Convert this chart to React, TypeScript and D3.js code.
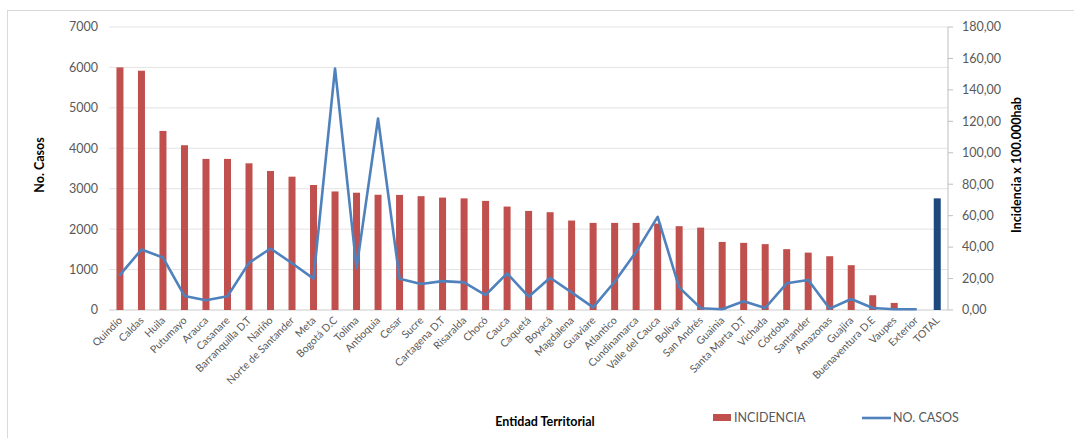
import React from "react";
import * as d3 from "d3";

const categories = [
  "Quindío", "Caldas", "Huila", "Putumayo", "Arauca", "Casanare", "Barranquilla D.T", "Nariño",
  "Norte de Santander", "Meta", "Bogotá D.C", "Tolima", "Antioquia", "Cesar", "Sucre",
  "Cartagena D.T", "Risaralda", "Chocó", "Cauca", "Caquetá", "Boyacá", "Magdalena", "Guaviare",
  "Atlantico", "Cundinamarca", "Valle del Cauca", "Bolívar", "San Andrés", "Guainia",
  "Santa Marta D.T", "Vichada", "Córdoba", "Santander", "Amazonas", "Guajira",
  "Buenaventura D.E", "Vaupes", "Exterior", "TOTAL",
];

// INCIDENCIA (x 100.000 hab) – right axis
const incidencia = [
  154.3, 152.2, 113.9, 104.8, 96.1, 96.1, 93.3, 88.4, 84.8, 79.5, 75.4, 74.6, 73.3, 73.2, 72.4,
  71.5, 71.0, 69.4, 65.8, 63.0, 62.2, 56.9, 55.4, 55.4, 55.4, 55.0, 53.3, 52.4, 43.3, 42.7, 41.9,
  38.7, 36.5, 34.2, 28.5, 9.4, 4.5, 0, 71.0,
];

// NO. CASOS – left axis (no value for TOTAL)
const casos = [
  868, 1496, 1298, 347, 240, 339, 1165, 1521, 1157, 777, 5975, 1033, 4736, 775, 641, 715, 683,
  370, 905, 329, 798, 436, 66, 699, 1439, 2303, 559, 45, 17, 215, 50, 661, 744, 33, 273, 50, 17, 17,
];

const leftTicks = [0, 1000, 2000, 3000, 4000, 5000, 6000, 7000];
const rightTicks = [0, 20, 40, 60, 80, 100, 120, 140, 160, 180];

const FONT = "Lato, 'Open Sans', sans-serif";
const GRAY = "#595959";
const RED = "#C0504D";
const NAVY = "#1F497D";
const BLUE = "#4F81BD";

export default function App() {
  const W = 1074, H = 438;
  const left = 109.2, right = 948, top = 27, bottom = 310;

  const x = d3.scaleBand<string>().domain(categories).range([left, right]).paddingInner(0).paddingOuter(0);
  const yL = d3.scaleLinear().domain([0, 7000]).range([bottom, top]);
  const yR = d3.scaleLinear().domain([0, 180]).range([bottom, top]);
  const cx = (c: string) => (x(c) as number) + x.bandwidth() / 2;
  const barW = 7;

  const line = d3
    .line<number>()
    .x((_, i) => cx(categories[i]))
    .y((d) => yL(d));

  const fmtR = (v: number) => v.toFixed(2).replace(".", ",");

  return (
    <svg
      width={W}
      height={H}
      style={{ position: "absolute", left: 0, top: 0, background: "#fff" }}
      fontFamily={FONT}
    >
      <rect x={7.5} y={10.5} width={1100} height={500} fill="#fff" stroke="#d9d9d9" />

      {/* gridlines */}
      {leftTicks.map((t) => (
        <line key={"g" + t} x1={left} x2={right} y1={yL(t)} y2={yL(t)} stroke="#e3e3e3" strokeWidth={1} />
      ))}
      <line x1={left} x2={right} y1={bottom} y2={bottom} stroke="#d9d9d9" />

      {/* left axis labels */}
      {leftTicks.map((t) => (
        <text key={"l" + t} x={98} y={yL(t)} dy="0.35em" textAnchor="end" fontSize={12.5} fill={GRAY}>
          {t}
        </text>
      ))}

      {/* right axis */}
      <line x1={right} x2={right} y1={top} y2={bottom} stroke="#bfbfbf" />
      {rightTicks.map((t) => (
        <g key={"r" + t}>
          <line x1={right} x2={right + 5} y1={yR(t)} y2={yR(t)} stroke="#bfbfbf" />
          <text x={962} y={yR(t)} dy="0.35em" textAnchor="start" fontSize={12.5} fill={GRAY}>
            {fmtR(t)}
          </text>
        </g>
      ))}

      {/* bars */}
      {incidencia.map((v, i) => (
        <rect
          key={"b" + i}
          x={cx(categories[i]) - barW / 2}
          y={yR(v)}
          width={barW}
          height={bottom - yR(v)}
          fill={categories[i] === "TOTAL" ? NAVY : RED}
        />
      ))}

      {/* line */}
      <path d={line(casos) || ""} fill="none" stroke={BLUE} strokeWidth={2.6} strokeLinejoin="round" strokeLinecap="round" />

      {/* x labels */}
      {categories.map((c) => (
        <text
          key={"x" + c}
          transform={`translate(${cx(c) + 3},${bottom + 11}) rotate(-45)`}
          textAnchor="end"
          fontSize={10.5}
          fill={GRAY}
        >
          {c}
        </text>
      ))}

      {/* axis titles */}
      <text transform="translate(44,165) rotate(-90)" textAnchor="middle" fontSize={12.5} fontWeight="bold" fill="#000">
        No. Casos
      </text>
      <text transform="translate(1021,165) rotate(-90)" textAnchor="middle" fontSize={12.5} fontWeight="bold" fill="#000">
        Incidencia x 100.000hab
      </text>
      <text x={545} y={426} textAnchor="middle" fontSize={12.5} fontWeight="bold" fill="#000">
        Entidad Territorial
      </text>

      {/* legend */}
      <rect x={713} y={414} width={18} height={7} fill={RED} />
      <text x={734} y={418} dy="0.35em" fontSize={12.5} fill={GRAY}>
        INCIDENCIA
      </text>
      <line x1={862} x2={891} y1={418} y2={418} stroke={BLUE} strokeWidth={2.6} />
      <text x={893} y={418} dy="0.35em" fontSize={12.5} fill={GRAY}>
        NO. CASOS
      </text>
    </svg>
  );
}
